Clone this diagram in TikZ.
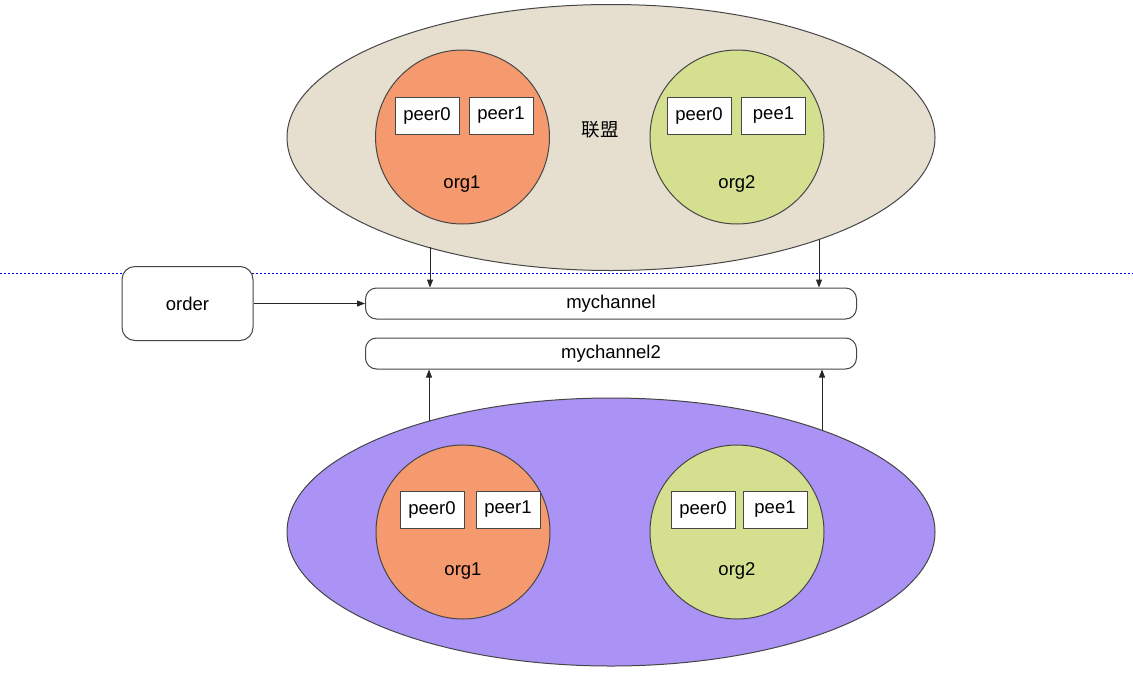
\documentclass[tikz,border=0pt]{standalone}
\usepackage{fontspec}
\setmainfont{Liberation Sans}
\newfontfamily\cjk{Noto Sans CJK SC}
\usetikzlibrary{arrows.meta,shapes.geometric}
\definecolor{allyfill}{RGB}{230,223,207}
\definecolor{chanfill}{RGB}{171,146,245}
\definecolor{orgafill}{RGB}{244,154,110}
\definecolor{orgbfill}{RGB}{212,224,143}
\definecolor{edgegray}{RGB}{70,70,70}
\definecolor{sepblue}{RGB}{0,0,255}
\tikzset{
  every node/.style={font=\fontsize{18.5}{22}\selectfont},
  bigell/.style={ellipse, draw=edgegray, line width=1pt, inner sep=0pt, minimum width=648pt, minimum height=266pt},
  orgdisc/.style={circle, draw=edgegray, line width=1pt, inner sep=0pt, minimum size=174pt},
  peerbox/.style={rectangle, draw=edgegray, fill=white, line width=1pt, inner sep=0pt, minimum width=64pt, minimum height=37pt},
  chanbox/.style={rectangle, rounded corners=11pt, draw=edgegray, fill=white, line width=1pt, inner sep=0pt, minimum width=491pt, minimum height=31pt},
  feed/.style={line width=1pt, draw=black!85, -{Triangle[length=8pt,width=6pt]}},
  sepline/.style={draw=sepblue, line width=1.4pt, dash pattern=on 2pt off 2pt}
}
\begin{document}
\begin{tikzpicture}[x=1pt,y=-1pt]
			%%%%% START %%%%%
			\useasboundingbox (0,0) rectangle (1133,678);
			
			% separator
			\coordinate (sepl) at (0,273.5);
			\coordinate (sepr) at (1133,273.5);
			\draw[sepline] (sepl) -- (sepr);
			
			% top group
			\node[bigell, fill=allyfill] (ally) at (611,137.5) {};
			\node[orgdisc, fill=orgafill] (torga) at (462.5,137) {};
			\node[orgdisc, fill=orgbfill] (torgb) at (737,137) {};
			\node[peerbox] (tpa0) at (427,115.5) {peer0};
			\node[peerbox] (tpa1) at (501,115.5) {peer1};
			\node[peerbox] (tpb0) at (699,115.5) {peer0};
			\node[peerbox] (tpb1) at (773.5,115.5) {pee1};
			\node (torgatxt) at (462,184) {org1};
			\node (torgbtxt) at (737,184) {org2};
			\node (allytxt) at (600,130) {\cjk 联盟};
			
			% channels
			\node[rectangle, rounded corners=13pt, draw=edgegray, fill=white, line width=1pt, inner sep=0pt, minimum width=131pt, minimum height=74pt] (order) at (187.5,303.5) {order};
			\node[chanbox] (mych) at (611,303.5) {mychannel};
			\node[chanbox] (mych2) at (611,353.5) {mychannel2};
			
			% bottom group
			\node[bigell, fill=chanfill, minimum height=268pt] (chan) at (611,532) {};
			\node[orgdisc, fill=orgafill] (borga) at (463,532) {};
			\node[orgdisc, fill=orgbfill] (borgb) at (737,532) {};
			\node[peerbox] (bpa0) at (432,509.5) {peer0};
			\node[peerbox] (bpa1) at (508,509.5) {peer1};
			\node[peerbox] (bpb0) at (703,509.5) {peer0};
			\node[peerbox] (bpb1) at (775,509.5) {pee1};
			\node (borgatxt) at (463,571) {org1};
			\node (borgbtxt) at (737,571) {org2};
			
			% connectors
			\coordinate (ta) at (430,247);
			\coordinate (tb) at (819,239);
			\coordinate (ba) at (429,421);
			\coordinate (bb) at (822,430);
			\draw[feed] (ta) -- (ta |- mych.north);
			\draw[feed] (tb) -- (tb |- mych.north);
			\draw[feed] (ba) -- (ba |- mych2.south);
			\draw[feed] (bb) -- (bb |- mych2.south);
			\draw[feed] (order.east) -- (mych.west);
			
			%%%%% END %%%%%
		\end{tikzpicture}
\end{document}
